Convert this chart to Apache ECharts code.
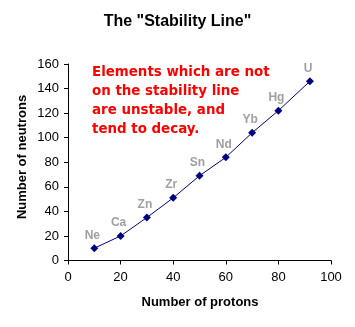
<!DOCTYPE html>
<html><head><meta charset="utf-8">
<script src="https://cdn.jsdelivr.net/npm/echarts@6/dist/echarts.min.js"></script>
<style>html,body{margin:0;padding:0;background:#fff}#c{width:355px;height:327px}</style>
</head><body><div id="c"></div>
<script>
const elements = ['Ne','Ca','Zn','Zr','Sn','Nd','Yb','Hg','U'];
const protons = [10,20,30,40,50,60,70,80,92];
const neutrons = [10,20,35,51,69,84,104,122,146];
const xTicks = [0,20,40,60,80,100];
const yTicks = [0,20,40,60,80,100,120,140,160];
const noteLines = ['Elements which are not','on the stability line','are unstable, and','tend to decay.'];

const chart = echarts.init(document.getElementById('c'));
const data = protons.map((p,i)=>({value:[p,neutrons[i]], name:elements[i]}));
chart.setOption({
  animation:false,
  grid:{left:68,right:24,top:64,bottom:66.5,containLabel:false},
  xAxis:{type:'value',min:xTicks[0],max:xTicks[xTicks.length-1],interval:20,
    axisLine:{show:true,lineStyle:{color:'#000',width:1}},
    axisTick:{show:true,length:4,lineStyle:{color:'#000'}},
    splitLine:{show:false},
    axisLabel:{color:'#000',fontFamily:'Arial, Liberation Sans',fontSize:13,margin:10}},
  yAxis:{type:'value',min:yTicks[0],max:yTicks[yTicks.length-1],interval:20,
    axisLine:{show:true,lineStyle:{color:'#000',width:1}},
    axisTick:{show:true,length:4,lineStyle:{color:'#000'}},
    splitLine:{show:false},
    axisLabel:{color:'#000',fontFamily:'Arial, Liberation Sans',fontSize:13,margin:9}},
  series:[{type:'line',data:data,symbol:'diamond',symbolSize:8,
    lineStyle:{color:'#000080',width:1},
    itemStyle:{color:'#000080'},
    label:{show:true,position:'top',distance:3,offset:[-2,0],formatter:p=>p.name,
      color:'#a0a0a0',fontWeight:'bold',fontSize:12,fontFamily:'Arial, Liberation Sans'}}],
  graphic:[
    {type:'text',x:177.5,y:21.5,style:{text:'The "Stability Line"',fill:'#000',font:'bold 16px Arial, Liberation Sans',align:'center',verticalAlign:'middle'}},
    {type:'text',x:200,y:302.5,style:{text:'Number of protons',fill:'#000',font:'bold 13px Arial, Liberation Sans',align:'center',verticalAlign:'middle'}},
    {type:'text',x:22,y:157,rotation:Math.PI/2,style:{text:'Number of neutrons',fill:'#000',font:'bold 13px Arial, Liberation Sans',align:'center',verticalAlign:'middle'}},
    {type:'text',x:92,y:63,style:{text:noteLines.join('\n'),fill:'#ff0000',font:'bold 13.4px "DejaVu Sans"',lineHeight:19}}
  ]
});
</script></body></html>
